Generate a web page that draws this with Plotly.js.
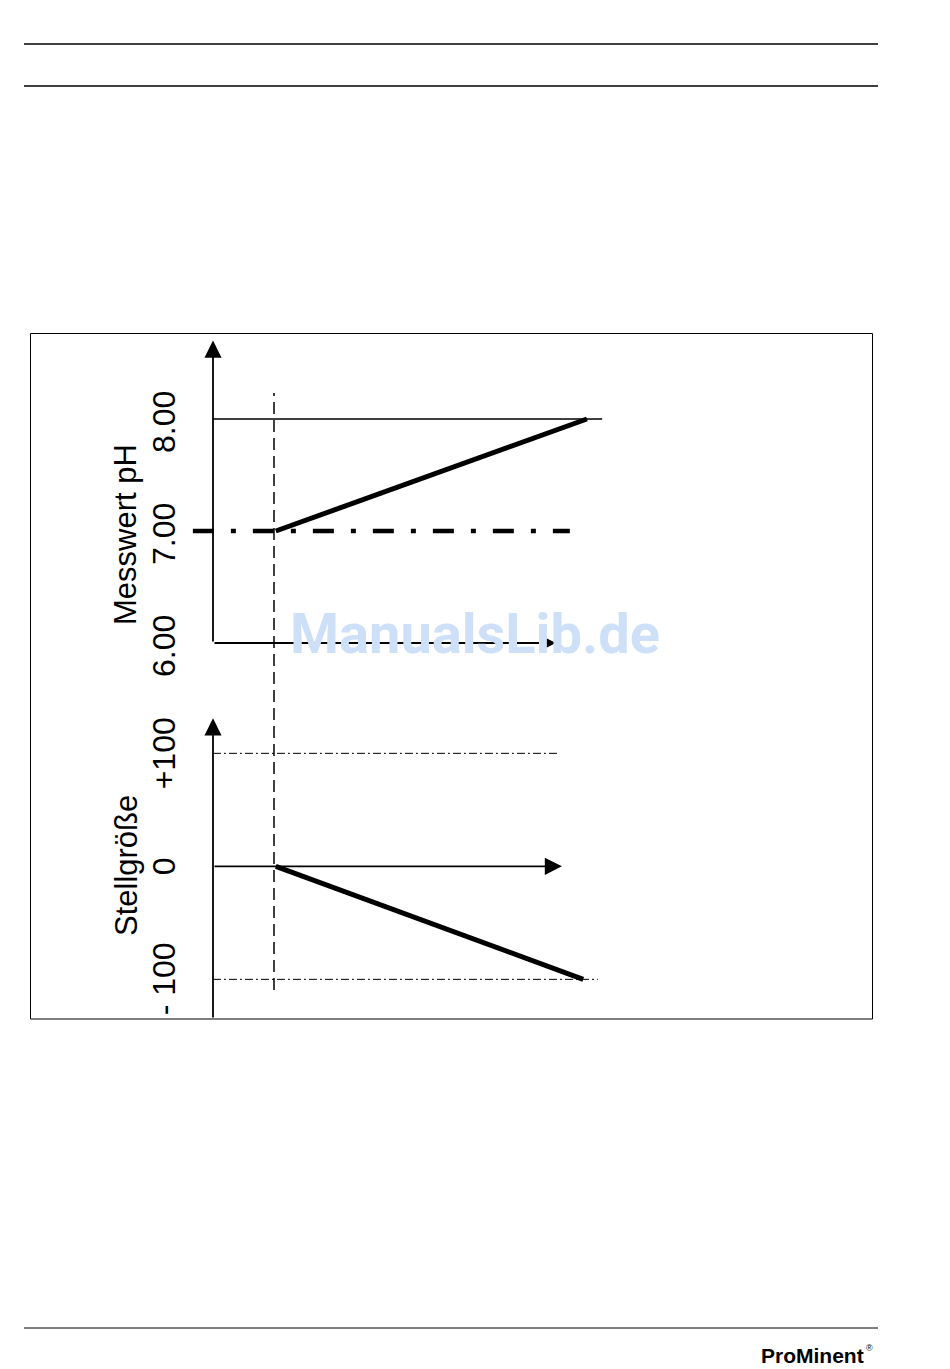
<!DOCTYPE html>
<html><head><meta charset="utf-8">
<script src="https://cdn.plot.ly/plotly-3.0.1.min.js"></script>
<style>html,body{margin:0;padding:0;background:#fff}#chart{width:950px;height:1369px}</style>
</head><body><div id="chart"></div>
<script>
// ---------- data ----------
const phTickVals = [6, 7, 8];
const phTickText = ['6.00', '7.00', '8.00'];
const outTickVals = [-100, 0, 100];
const outTickText = ['- 100', '0', '+100'];
const phTitle = 'Messwert pH';
const outTitle = 'Stellgröße';

const setpointX = 10;            // time where measurement leaves setpoint
const setpointPH = 7.0;
const rampX = [10.3, 61.3];      // measured pH ramp
const rampPH = [7.0, 8.0];
const outRampX = [10.3, 60.7];   // controller output ramp
const outRampY = [0, -100];

const phMaxLineX = [0, 63.8];    // 8.00 reference line
const setpointLineX = [-3.3, 58.5];
const outMaxLineX = [0, 56.6];   // +100 limit
const outMinLineX = [0, 63.1];   // -100 limit

const phAxisTop = 8.7;
const phAxisBase = 6.0;
const timeAxisEndPH = 56.2;
const outAxisTop = 131;
const outAxisBottom = -135;
const timeAxisEndOut = 57.2;

// ---------- layout helpers (pixel -> paper) ----------
const W = 950, H = 1369;
const px = v => v / W;
const py = v => 1 - v / H;
const FONT = 'Liberation Sans, Arial, sans-serif';

const traces = [
  {x: phMaxLineX, y: [8, 8], xaxis: 'x', yaxis: 'y', mode: 'lines',
   line: {color: '#000', width: 1.3}},
  {x: setpointLineX, y: [setpointPH, setpointPH], xaxis: 'x', yaxis: 'y', mode: 'lines',
   line: {color: '#000', width: 4.5, dash: '21px,17px,5px,17px'}},
  {x: rampX, y: rampPH, xaxis: 'x', yaxis: 'y', mode: 'lines',
   line: {color: '#000', width: 5}},
  {x: outMaxLineX, y: [100, 100], xaxis: 'x', yaxis: 'y2', mode: 'lines',
   line: {color: '#000', width: 1, dash: '8px,3px,2px,3px'}},
  {x: outMinLineX, y: [-100, -100], xaxis: 'x', yaxis: 'y2', mode: 'lines',
   line: {color: '#000', width: 1, dash: '8px,3px,2px,3px'}},
  {x: outRampX, y: outRampY, xaxis: 'x', yaxis: 'y2', mode: 'lines',
   line: {color: '#000', width: 5}}
].map(t => Object.assign(t, {hoverinfo: 'skip', showlegend: false}));

const arrow = (xref, yref, x, y, ax, ay, size) => ({
  xref: xref, yref: yref, axref: xref, ayref: yref,
  x: x, y: y, ax: ax, ay: ay, text: '', showarrow: true,
  arrowhead: 2, arrowsize: size, arrowwidth: 1.8, arrowcolor: '#000', standoff: 0
});

const annotations = [
  arrow('x', 'y', 0, phAxisTop, 0, phAxisBase, 1.9),
  arrow('x', 'y', timeAxisEndPH, phAxisBase, 0, phAxisBase, 1.2),
  arrow('x', 'y2', 0, outAxisTop, 0, outAxisBottom, 1.9),
  arrow('x', 'y2', timeAxisEndOut, 0, 0, 0, 1.9)
];

phTickVals.forEach((v, i) => annotations.push({
  xref: 'paper', yref: 'y', x: px(164), y: v, text: phTickText[i], showarrow: false,
  textangle: -90, xanchor: 'center', yanchor: 'middle', yshift: -3,
  font: {family: FONT, size: 32, color: '#000'}
}));
outTickVals.forEach((v, i) => annotations.push({
  xref: 'paper', yref: 'y2', x: px(164), y: v, text: outTickText[i], showarrow: false,
  textangle: -90, xanchor: 'center', yanchor: 'middle',
  font: {family: FONT, size: 32, color: '#000'}
}));
annotations.push({
  xref: 'paper', yref: 'paper', x: px(126), y: py(535), text: phTitle, showarrow: false,
  textangle: -90, xanchor: 'center', yanchor: 'middle',
  font: {family: FONT, size: 31, color: '#000'}
});
annotations.push({
  xref: 'paper', yref: 'paper', x: px(126), y: py(866), text: outTitle, showarrow: false,
  textangle: -90, xanchor: 'center', yanchor: 'middle',
  font: {family: FONT, size: 31, color: '#000'}
});
// watermark
annotations.push({
  xref: 'paper', yref: 'paper', x: px(475), y: py(634), text: '<b>ManualsLib.de</b>', showarrow: false,
  xanchor: 'center', yanchor: 'middle',
  font: {family: 'Roboto, sans-serif', size: 56, color: '#cde0f8'}
});
// logo
annotations.push({
  xref: 'paper', yref: 'paper', x: px(866), y: py(1355), text: '<b>ProMinent</b>', showarrow: false,
  xanchor: 'right', yanchor: 'middle',
  font: {family: FONT, size: 21, color: '#000'}
});
annotations.push({
  xref: 'paper', yref: 'paper', x: px(864), y: py(1348), text: '®', showarrow: false,
  xanchor: 'left', yanchor: 'middle',
  font: {family: FONT, size: 9, color: '#000'}
});

const shapes = [
  {type: 'line', xref: 'paper', yref: 'paper', x0: px(24), x1: px(878), y0: py(44), y1: py(44), line: {color: '#000', width: 1.4}},
  {type: 'line', xref: 'paper', yref: 'paper', x0: px(24), x1: px(878), y0: py(86), y1: py(86), line: {color: '#000', width: 1.4}},
  {type: 'line', xref: 'paper', yref: 'paper', x0: px(24), x1: px(878), y0: py(1328), y1: py(1328), line: {color: '#000', width: 1}},
  {type: 'rect', xref: 'paper', yref: 'paper', x0: px(30.5), x1: px(872.5), y0: py(333.5), y1: py(1019), line: {color: '#000', width: 1}},
  {type: 'line', xref: 'x', yref: 'paper', x0: setpointX, x1: setpointX, y0: py(990), y1: py(393),
   line: {color: '#000', width: 1.5, dash: '12px,6px'}}
];

const hiddenAxis = {visible: false, showgrid: false, zeroline: false, fixedrange: true};
const layout = {
  width: W, height: H, margin: {l: 0, r: 0, t: 0, b: 0},
  paper_bgcolor: '#fff', plot_bgcolor: 'rgba(0,0,0,0)', showlegend: false,
  xaxis: Object.assign({}, hiddenAxis, {domain: [px(190), px(873)], range: [-3.77, 108.2], anchor: 'y'}),
  yaxis: Object.assign({}, hiddenAxis, {domain: [py(690), py(330)], range: [5.5804, 8.7946], anchor: 'x',
    tickvals: phTickVals, ticktext: phTickText}),
  yaxis2: Object.assign({}, hiddenAxis, {domain: [py(1019), py(700)], range: [-135.1, 147.2], anchor: 'x',
    tickvals: outTickVals, ticktext: outTickText}),
  shapes: shapes,
  annotations: annotations
};

Plotly.newPlot('chart', traces, layout, {staticPlot: true, displayModeBar: false});
</script>
</body></html>
